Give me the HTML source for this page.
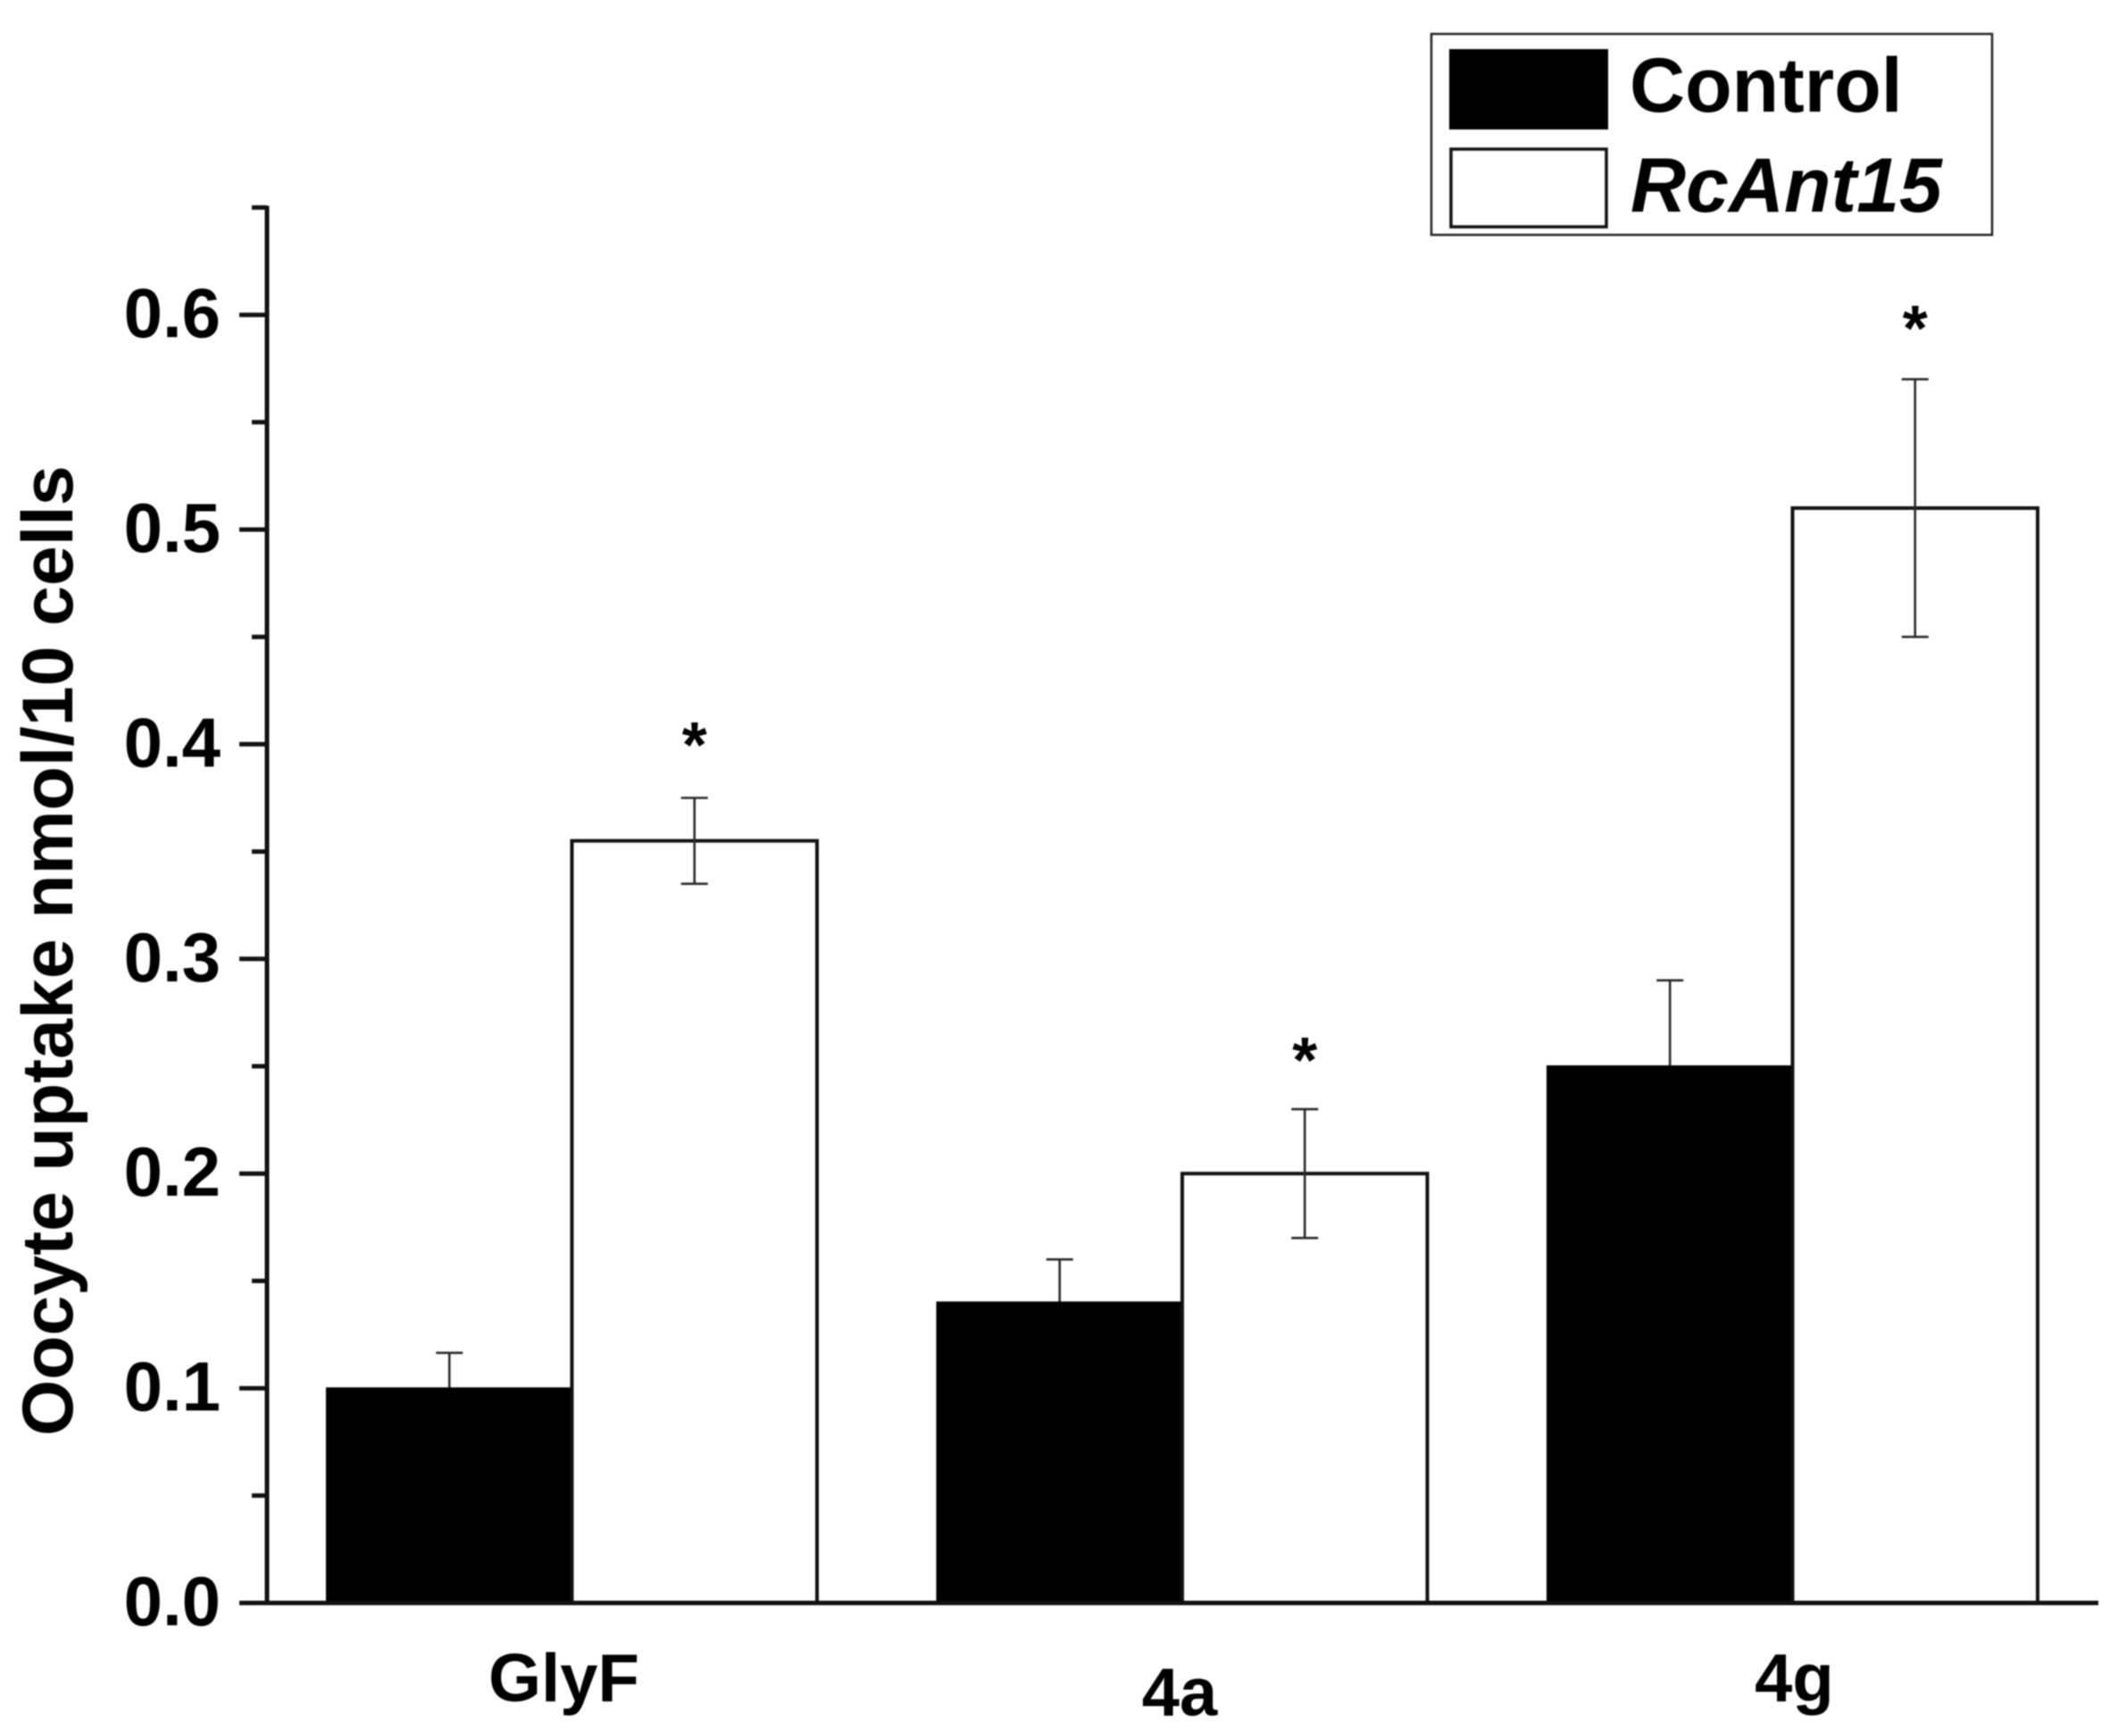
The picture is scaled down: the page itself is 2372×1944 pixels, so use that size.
<!DOCTYPE html>
<html lang="en">
<head>
<meta charset="utf-8">
<title>Oocyte uptake bar chart</title>
<style>
  html, body { margin: 0; padding: 0; background: #fff; width: 2372px; height: 1944px; overflow: hidden; }
  svg { display: block; filter: blur(0.7px); }
  text { font-family: "Liberation Sans", sans-serif; font-weight: bold; fill: #000; }
</style>
</head>
<body>
<svg id="chart" xmlns="http://www.w3.org/2000/svg" width="2372" height="1944" viewBox="0 0 2372 1944">
  <rect x="0" y="0" width="2372" height="1944" fill="#fff"/>
  <g id="plot"></g>
  <text transform="translate(81,1608) rotate(-90)" font-size="80.8">Oocyte uptake nmol/10 cells</text>
  <g>
    <rect x="1603" y="38" width="628" height="225" fill="#fff" stroke="#222" stroke-width="2.5"/>
    <rect x="1624" y="56" width="176" height="88" fill="#000" stroke="#000" stroke-width="2"/>
    <text x="1825" y="125" font-size="86">Control</text>
    <rect x="1625" y="167" width="174" height="87" fill="#fff" stroke="#111" stroke-width="3.5"/>
    <text x="1826" y="237" font-size="86" font-style="italic">RcAnt15</text>
  </g>
</svg>
<script>
const categories = ["GlyF", "4a", "4g"];
const controlValues = [0.10, 0.14, 0.25];
const controlErrors = [0.0165, 0.02, 0.04];
const rcant15Values = [0.355, 0.20, 0.51];
const rcant15Errors = [0.02, 0.03, 0.06];
const significanceLevels = [0.404, 0.257, 0.598];
const majorTicks = [0.0, 0.1, 0.2, 0.3, 0.4, 0.5, 0.6];
const majorTickLabels = ["0.0", "0.1", "0.2", "0.3", "0.4", "0.5", "0.6"];
const minorTicks = [0.05, 0.15, 0.25, 0.35, 0.45, 0.55, 0.65];
const yAxisTop = 0.65;

const NS = "http://www.w3.org/2000/svg";
const plot = document.getElementById("plot");
const Y0 = 1795, UNIT = 2404, AXIS_X = 299, AXIS_END = 2350;
const GROUP_START = 366, GROUP_STEP = 683.5, BAR_W = 274.5;

function yScale(v) { return Y0 - v * UNIT; }
function barLeft(groupIndex, seriesIndex) { return GROUP_START + groupIndex * GROUP_STEP + seriesIndex * BAR_W; }
function barCenter(groupIndex, seriesIndex) { return barLeft(groupIndex, seriesIndex) + BAR_W / 2; }

function make(tag, attrs, text) {
  const el = document.createElementNS(NS, tag);
  for (const k in attrs) el.setAttribute(k, attrs[k]);
  if (text !== undefined) el.textContent = text;
  plot.appendChild(el);
  return el;
}

function drawBar(i, s, value, fill, label) {
  const top = yScale(value);
  const el = make("rect", { x: barLeft(i, s), y: top, width: BAR_W, height: Y0 - top, fill: fill, stroke: s === 0 ? "#000" : "#111", "stroke-width": s === 0 ? 2 : 4 });
  
  
}

function drawError(i, s, value, err, label) {
  const cx = barCenter(i, s);
  const hi = yScale(value + err), lo = yScale(value - err);
  const stem = make("line", { x1: cx, x2: cx, y1: hi, y2: lo, stroke: "#2a2a2a", "stroke-width": 2.6 });
  
  
  const capTop = make("line", { x1: cx - 15, x2: cx + 15, y1: hi, y2: hi, stroke: "#2a2a2a", "stroke-width": 2.6 });
  
  
  const capBottom = make("line", { x1: cx - 15, x2: cx + 15, y1: lo, y2: lo, stroke: "#2a2a2a", "stroke-width": 2.6 });
  
  
}

// control error bars sit behind their black bars, so only the upper half shows
categories.forEach(function (cat, i) {
  drawError(i, 0, controlValues[i], controlErrors[i], "control-" + cat.toLowerCase());
  drawBar(i, 0, controlValues[i], "#000", "control-" + cat.toLowerCase());
});
categories.forEach(function (cat, i) {
  drawBar(i, 1, rcant15Values[i], "#fff", "rcant15-" + cat.toLowerCase());
});
categories.forEach(function (cat, i) {
  drawError(i, 1, rcant15Values[i], rcant15Errors[i], "rcant15-" + cat.toLowerCase());
  const star = make("text", { x: barCenter(i, 1), y: yScale(significanceLevels[i]) + 35, "font-size": 72, "text-anchor": "middle" }, "*");
  
  
});

// axes
const yAxis = make("line", { x1: AXIS_X, x2: AXIS_X, y1: yScale(yAxisTop) - 2, y2: Y0 + 2, stroke: "#111", "stroke-width": 5 });


const xAxis = make("line", { x1: 268, x2: AXIS_END, y1: Y0, y2: Y0, stroke: "#111", "stroke-width": 5 });



majorTicks.forEach(function (v, i) {
  const y = yScale(v);
  const tick = make("line", { x1: 268, x2: AXIS_X, y1: y, y2: y, stroke: "#111", "stroke-width": 5 });
  
  
  const label = make("text", { x: 247, y: y + 25, "font-size": 78, "text-anchor": "end" }, majorTickLabels[i]);
  
  
});
minorTicks.forEach(function (v) {
  const y = yScale(v);
  const tick = make("line", { x1: 282, x2: AXIS_X, y1: y, y2: y, stroke: "#111", "stroke-width": 5 });
  
  
});

// category labels: the source figure nudges each label by hand
const labelNudgeX = [-9, -3, 2];
const labelNudgeY = [0, 16, 0];
categories.forEach(function (cat, i) {
  const cx = barLeft(i, 1);
  const label = make("text", { x: cx + labelNudgeX[i], y: 1905 + labelNudgeY[i], "font-size": 76, "text-anchor": "middle" }, cat);
  
  
});
</script>
</body>
</html>
